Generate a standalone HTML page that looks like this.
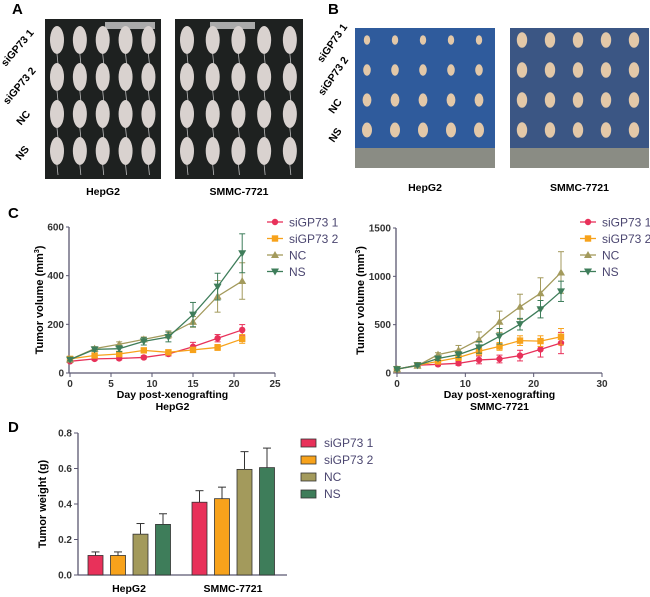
<!DOCTYPE html>
<html><head><meta charset="utf-8"><style>
body{margin:0;background:#fff;}
svg{display:block;font-family:"Liberation Sans",Arial,sans-serif;}
</style></head><body>
<svg id="fig" width="650" height="597" viewBox="0 0 650 597">
<g font-weight="bold" font-size="15">
<text x="12" y="14">A</text>
<text x="328" y="14">B</text>
<text x="8" y="218">C</text>
<text x="8" y="432">D</text>
</g>
<g id="photos"></g>
<g id="cl"></g>
<g id="cr"></g>
<g id="d"></g>
</svg>
<script>
const NS='http://www.w3.org/2000/svg';
function el(p,t,a,txt){const e=document.createElementNS(NS,t);for(const k in a)e.setAttribute(k,a[k]);if(txt!==undefined)e.textContent=txt;p.appendChild(e);return e;}
const seriesNames=['siGP73 1','siGP73 2','NC','NS'];
const colors=['#e8315a','#f7a21b','#a39a5c','#3e7d5a'];
const markers=['circle','square','tri','tridown'];
// Chart C left
const daysL=[0,3,6,9,12,15,18,21];
const hepSi1=[48,58,60,64,78,108,143,177];
const hepSi2=[58,72,78,93,85,95,105,140];
const hepNC=[55,100,118,138,158,210,315,378];
const hepNS=[55,97,100,130,148,240,355,492];
const hepSi1Err=[5,6,6,6,8,18,15,22];
const hepSi2Err=[5,6,8,8,8,10,12,18];
const hepNCErr=[5,8,10,10,15,22,65,75];
const hepNSErr=[5,8,12,15,20,50,55,80];
const ticksYL=[0,200,400,600];
const ticksXL=[0,5,10,15,20,25];
// Chart C right
const daysR=[0,3,6,9,12,15,18,21,24];
const smSi1=[40,80,90,100,135,145,180,245,310];
const smSi2=[40,80,120,160,225,275,335,330,375];
const smNC=[40,75,190,235,345,530,685,825,1040];
const smNS=[40,80,150,190,265,380,505,660,845];
const smSi1Err=[10,10,15,20,40,40,55,80,110];
const smSi2Err=[10,10,20,30,40,40,50,55,85];
const smNCErr=[10,10,20,50,80,110,130,160,215];
const smNSErr=[10,10,20,30,60,80,60,90,105];
const ticksYR=[0,500,1000,1500];
const ticksXR=[0,10,20,30];
// Chart D
const groups=['HepG2','SMMC-7721'];
const weightHep=[0.11,0.11,0.23,0.285];
const weightSm=[0.41,0.43,0.595,0.605];
const weightHepErr=[0.02,0.02,0.06,0.06];
const weightSmErr=[0.065,0.065,0.1,0.11];
const ticksYD=[0,0.2,0.4,0.6,0.8];

function marker(g,type,x,y,c){
  let m;
  if(type==='circle')m=el(g,'circle',{cx:x,cy:y,r:3.2,fill:c});
  else if(type==='square')m=el(g,'rect',{x:x-3.2,y:y-3.2,width:6.4,height:6.4,fill:c});
  else if(type==='tri')m=el(g,'polygon',{points:`${x},${y-4} ${x-4},${y+3} ${x+4},${y+3}`,fill:c});
  else m=el(g,'polygon',{points:`${x},${y+4} ${x-4},${y-3} ${x+4},${y-3}`,fill:c});
  return m;
}
function lineChart(g,o){
  const sx=v=>o.x0+(v-o.xmin)/(o.xmax-o.xmin)*(o.x1-o.x0);
  const sy=v=>o.y0-(v-0)/(o.ymax)*(o.y0-o.y1);
  el(g,'line',{x1:o.x0-1,y1:o.y0,x2:o.x1,y2:o.y0,stroke:'#5a5770','stroke-width':1.3});
  el(g,'line',{x1:o.x0-1,y1:o.y0,x2:o.x0-1,y2:o.y1,stroke:'#5a5770','stroke-width':1.3});
  o.ty.forEach(t=>{const y=sy(t);el(g,'line',{x1:o.x0-4,y1:y,x2:o.x0-1,y2:y,stroke:'#5a5770'});
    const tx=el(g,'text',{x:o.x0-6,y:y+3.5,'text-anchor':'end','font-size':10,'font-weight':'bold',fill:'#333'},t);
    });
  o.tx.forEach(t=>{const x=sx(t);el(g,'line',{x1:x,y1:o.y0,x2:x,y2:o.y0+4,stroke:'#5a5770'});
    const tx=el(g,'text',{x:x,y:o.y0+14,'text-anchor':'middle','font-size':10,'font-weight':'bold',fill:'#333'},t);
    });
  const xl=el(g,'text',{x:(o.x0+o.x1)/2,y:o.y0+25,'text-anchor':'middle','font-size':10.5,'font-weight':'bold'},'Day post-xenografting');
  
  const xl2=el(g,'text',{x:(o.x0+o.x1)/2,y:o.y0+37,'text-anchor':'middle','font-size':10.5,'font-weight':'bold'},o.cell);
  
  const yl=el(g,'text',{transform:`translate(${o.x0-(o.ymax>1000?33:27)},${(o.y0+o.y1)/2}) rotate(-90)`,'text-anchor':'middle','font-size':11,'font-weight':'bold'});
  
  yl.innerHTML='Tumor volume (mm<tspan dy="-4" font-size="7">3</tspan><tspan dy="4">)</tspan>';
  o.series.forEach((s,i)=>{
    const sg=el(g,'g',{});
    
    
    s.forEach((v,j)=>{const x=sx(o.days[j]),e=o.errs[i][j];
      el(sg,'line',{x1:x,y1:sy(v-e),x2:x,y2:sy(v+e),stroke:colors[i],'stroke-width':1});
      el(sg,'line',{x1:x-3,y1:sy(v+e),x2:x+3,y2:sy(v+e),stroke:colors[i],'stroke-width':1});
      el(sg,'line',{x1:x-3,y1:sy(v-e),x2:x+3,y2:sy(v-e),stroke:colors[i],'stroke-width':1});});
    el(sg,'polyline',{points:s.map((v,j)=>sx(o.days[j])+','+sy(v)).join(' '),fill:'none',stroke:colors[i],'stroke-width':1.3});
    s.forEach((v,j)=>{const m=marker(sg,markers[i],sx(o.days[j]),sy(v),colors[i]);
      });
  });
  seriesNames.forEach((n,i)=>{const y=o.ly+i*16.5;
    const lg=el(g,'g',{});
    
    el(lg,'line',{x1:o.lx,y1:y,x2:o.lx+16,y2:y,stroke:colors[i],'stroke-width':1.3});
    marker(lg,markers[i],o.lx+8,y,colors[i]);
    el(lg,'text',{x:o.lx+22,y:y+4.5,'font-size':12,fill:'#4b4670'},n);});
}
lineChart(document.getElementById('cl'),{x0:70,x1:275,y0:373,y1:227,xmin:0,xmax:25,ymax:600,ty:ticksYL,tx:ticksXL,days:daysL,
  series:[hepSi1,hepSi2,hepNC,hepNS],errs:[hepSi1Err,hepSi2Err,hepNCErr,hepNSErr],cell:'HepG2',lx:267,ly:222});
lineChart(document.getElementById('cr'),{x0:397,x1:602,y0:373,y1:228,xmin:0,xmax:30,ymax:1500,ty:ticksYR,tx:ticksXR,days:daysR,
  series:[smSi1,smSi2,smNC,smNS],errs:[smSi1Err,smSi2Err,smNCErr,smNSErr],cell:'SMMC-7721',lx:580,ly:222});

// Chart D
(function(){
  const g=document.getElementById('d');
  const x0=78,x1=287,y0=575,y1=433;
  const sy=v=>y0-v/0.8*(y0-y1);
  el(g,'line',{x1:x0,y1:y0,x2:x1,y2:y0,stroke:'#5a5770','stroke-width':1.3});
  el(g,'line',{x1:x0,y1:y0,x2:x0,y2:y1,stroke:'#5a5770','stroke-width':1.3});
  ticksYD.forEach(t=>{const y=sy(t);el(g,'line',{x1:x0-4,y1:y,x2:x0,y2:y,stroke:'#5a5770'});
    const tx=el(g,'text',{x:x0-6,y:y+3.5,'text-anchor':'end','font-size':10,'font-weight':'bold',fill:'#333'},t.toFixed(1));
    });
  const yl=el(g,'text',{transform:`translate(46,${(y0+y1)/2}) rotate(-90)`,'text-anchor':'middle','font-size':11,'font-weight':'bold'},'Tumor weight (g)');
  
  const data=[weightHep,weightSm],errs=[weightHepErr,weightSmErr],gx=[88,192];
  data.forEach((vals,gi)=>{
    vals.forEach((v,i)=>{const x=gx[gi]+i*22.5,e=errs[gi][i];
      el(g,'line',{x1:x+7.5,y1:sy(v),x2:x+7.5,y2:sy(v+e),stroke:'#333'});
      el(g,'line',{x1:x+3.5,y1:sy(v+e),x2:x+11.5,y2:sy(v+e),stroke:'#333'});
      const r=el(g,'rect',{x:x,y:sy(v),width:15,height:y0-sy(v),fill:colors[i],stroke:'#333','stroke-width':0.8});
      
      });
    const t=el(g,'text',{x:gx[gi]+41,y:y0+17,'text-anchor':'middle','font-size':10.5,'font-weight':'bold'},groups[gi]);
    
  });
  seriesNames.forEach((n,i)=>{const y=442+i*17;
    const lg=el(g,'g',{});
    
    el(lg,'rect',{x:301,y:y-3,width:15,height:8,fill:colors[i],stroke:'#333','stroke-width':0.8});
    el(lg,'text',{x:324,y:y+5,'font-size':12,fill:'#4b4670'},n);});
})();

// Photos
(function(){
  const g=document.getElementById('photos');
  const rowLabels=['siGP73 1','siGP73 2','NC','NS'];
  const aPos=[[20,50],[22,88],[26,120],[25,155]];
  const bPos=[[335,45],[336,78],[338,108],[338,137]];
  [[45,161],[175,303]].forEach((p,k)=>{
    const r=el(g,'rect',{x:p[0],y:19,width:p[1]-p[0],height:160,fill:'#1e2120'});
    
    el(g,'rect',{x:p[0]+(k?35:60),y:22,width:(k?45:50),height:7,fill:'#aaa'});
    for(let row=0;row<4;row++)for(let c=0;c<5;c++){
      const cx=p[0]+12+c*(p[1]-p[0]-20)/4.2, cy=40+row*37;
      el(g,'ellipse',{cx:cx,cy:cy,rx:7,ry:14,fill:'#d9d2cf'});
      el(g,'line',{x1:cx,y1:cy+14,x2:cx+1,y2:cy+24,stroke:'#bbb','stroke-width':0.8});
    }
    const t=el(g,'text',{x:(p[0]+p[1])/2,y:195,'text-anchor':'middle','font-size':10.5,'font-weight':'bold'},k?'SMMC-7721':'HepG2');
    
  });
  rowLabels.forEach((n,i)=>{
    const t=el(g,'text',{transform:`translate(${aPos[i][0]},${aPos[i][1]}) rotate(-50)`,'text-anchor':'middle','font-size':10.5,'font-weight':'bold'},n);
    
    const t2=el(g,'text',{transform:`translate(${bPos[i][0]},${bPos[i][1]}) rotate(-55)`,'text-anchor':'middle','font-size':10.5,'font-weight':'bold'},n);
    });
  [[355,495,'#2f5b9c'],[510,649,'#3b5684']].forEach((p,k)=>{
    const r=el(g,'rect',{x:p[0],y:28,width:p[1]-p[0],height:140,fill:p[2]});
    
    el(g,'rect',{x:p[0],y:148,width:p[1]-p[0],height:20,fill:'#8a8c84'});
    for(let row=0;row<4;row++)for(let c=0;c<5;c++){
      const cx=p[0]+12+c*28, cy=40+row*30;
      const s=k?1.3:(0.8+row*0.15);
      el(g,'ellipse',{cx:cx,cy:cy,rx:4*s,ry:6*s,fill:'#e3c8a8'});
    }
    const t=el(g,'text',{x:(p[0]+p[1])/2,y:191,'text-anchor':'middle','font-size':10.5,'font-weight':'bold'},k?'SMMC-7721':'HepG2');
    
  });
})();
</script>
</body></html>
